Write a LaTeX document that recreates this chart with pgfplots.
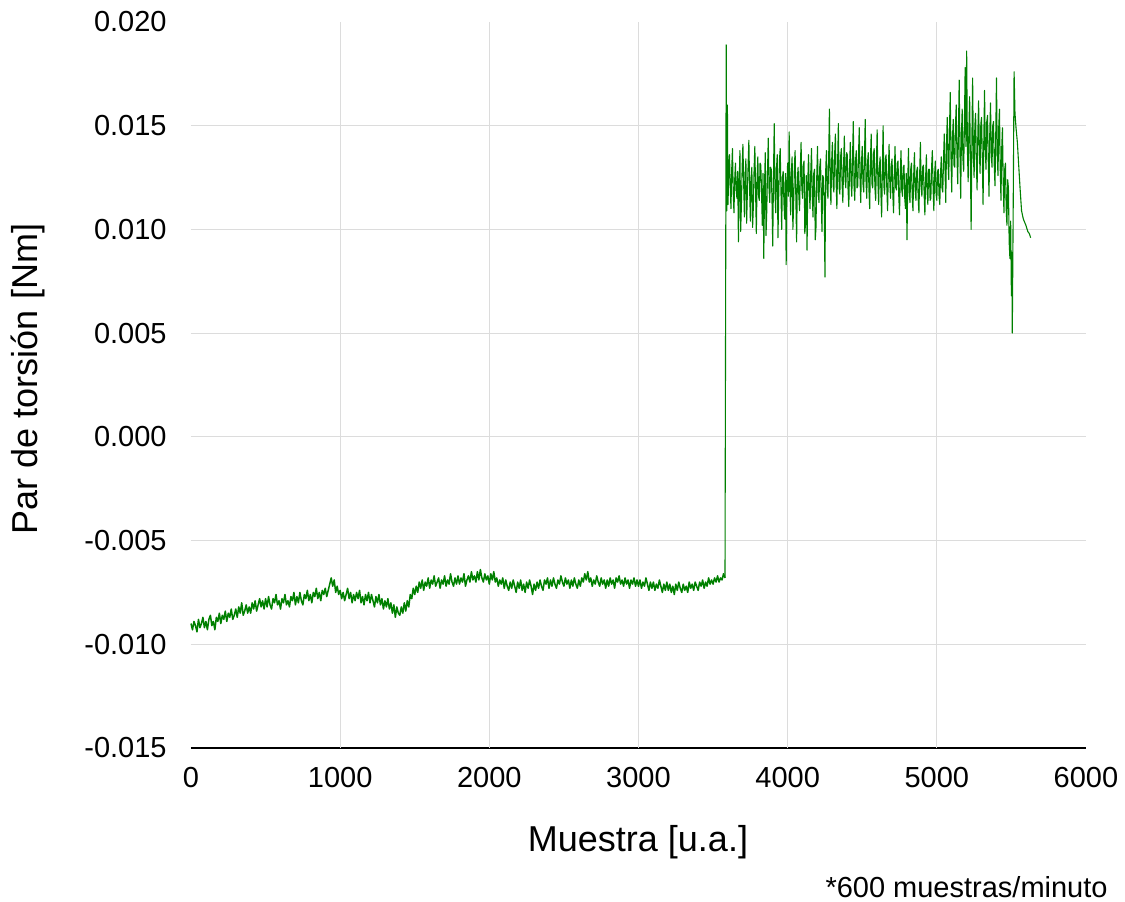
\documentclass[border=0pt]{standalone}
\usepackage{fontspec}
\setmainfont{Liberation Sans}
\usepackage{pgfplots}
\pgfplotsset{compat=1.18}
\definecolor{linegreen}{RGB}{0,128,0}
\definecolor{gridc}{RGB}{220,220,220}
\begin{document}
\begin{tikzpicture}
\useasboundingbox (-95.5pt,-76.5pt) rectangle (467pt,374pt);
\begin{axis}[
  scale only axis, width=447.5pt, height=363pt,
  at={(0,0)}, anchor=south west,
  xmin=0, xmax=6000, ymin=-15, ymax=20,
  axis x line*=bottom, axis y line*=left,
  x axis line style={black, line width=1pt},
  y axis line style={draw=none},
  major tick length=0pt,
  xtick={0,1000,2000,3000,4000,5000,6000},
  xticklabels={0,1000,2000,3000,4000,5000,6000},
  ytick={-15,-10,-5,0,5,10,15,20},
  yticklabels={-0.015,-0.010,-0.005,0.000,0.005,0.010,0.015,0.020},
  xticklabel style={font=\fontsize{14.5}{16}\selectfont, anchor=north, inner sep=0pt, yshift=-9.5pt},
  yticklabel style={font=\fontsize{14.5}{16}\selectfont, anchor=east, inner sep=0pt, xshift=-12pt},
  clip=false,
]
\pgfplotsinvokeforeach{-10,-5,0,5,10,15}{\draw[gridc, line width=0.6pt] (axis cs:0,#1) -- (axis cs:6000,#1);}
\pgfplotsinvokeforeach{1000,2000,3000,4000,5000}{\draw[gridc, line width=0.6pt] (axis cs:#1,-15) -- (axis cs:#1,20);}
% low segment
\addplot[linegreen, line width=0.75pt, line join=round] coordinates {
(0,-9.0)(10,-9.3)(20,-8.9)(30,-9.1)(40,-9.4)(50,-8.8)(60,-9.2)(70,-9.0)(80,-8.7)(90,-9.2)
(100,-8.9)(110,-9.3)(120,-8.8)(130,-8.6)(140,-9.1)(150,-8.9)(160,-9.3)(170,-8.7)(180,-8.9)(190,-8.5)
(200,-9.0)(210,-8.6)(220,-8.8)(230,-8.4)(240,-8.9)(250,-8.5)(260,-8.7)(270,-8.3)(280,-8.8)(290,-8.6)
(300,-8.3)(310,-8.7)(320,-8.2)(330,-8.5)(340,-8.0)(350,-8.6)(360,-8.4)(370,-8.1)(380,-8.5)(390,-8.2)
(400,-8.5)(410,-8.0)(420,-8.3)(430,-7.9)(440,-8.4)(450,-8.1)(460,-7.8)(470,-8.2)(480,-7.9)(490,-8.3)
(500,-7.8)(510,-8.2)(520,-7.7)(530,-8.1)(540,-8.3)(550,-7.8)(560,-8.0)(570,-7.6)(580,-8.1)(590,-7.9)
(600,-8.3)(610,-7.8)(620,-8.0)(630,-7.6)(640,-8.1)(650,-7.9)(660,-8.2)(670,-7.7)(680,-7.9)(690,-7.5)
(700,-8.1)(710,-7.7)(720,-8.0)(730,-7.5)(740,-7.9)(750,-8.1)(760,-7.6)(770,-7.8)(780,-7.4)(790,-7.9)
(800,-7.6)(810,-8.0)(820,-7.5)(830,-7.7)(840,-7.3)(850,-7.8)(860,-7.5)(870,-7.9)(880,-7.4)(890,-7.6)
(900,-7.3)(910,-7.7)(920,-7.4)(930,-7.1)(940,-6.8)(950,-7.2)(960,-6.9)(970,-7.5)(980,-7.2)(990,-7.6)
(1000,-7.4)(1010,-7.8)(1020,-7.5)(1030,-7.9)(1040,-7.6)(1050,-7.3)(1060,-7.8)(1070,-7.5)(1080,-8.0)(1090,-7.6)
(1100,-7.9)(1110,-7.5)(1120,-7.8)(1130,-7.4)(1140,-8.0)(1150,-7.7)(1160,-8.1)(1170,-7.6)(1180,-7.9)(1190,-7.5)
(1200,-8.0)(1210,-7.6)(1220,-7.9)(1230,-8.2)(1240,-7.7)(1250,-8.0)(1260,-7.6)(1270,-8.1)(1280,-7.8)(1290,-8.3)
(1300,-7.9)(1310,-8.2)(1320,-7.8)(1330,-8.3)(1340,-8.0)(1350,-8.5)(1360,-8.1)(1370,-8.7)(1380,-8.2)(1390,-8.5)
(1400,-8.6)(1410,-8.2)(1420,-8.5)(1430,-8.0)(1440,-8.4)(1450,-7.9)(1460,-8.2)(1470,-7.6)(1480,-7.8)(1490,-7.3)
(1500,-7.6)(1510,-7.2)(1520,-7.5)(1530,-7.0)(1540,-7.3)(1550,-6.9)(1560,-7.4)(1570,-7.0)(1580,-7.2)(1590,-6.8)
(1600,-7.3)(1610,-6.9)(1620,-7.1)(1630,-6.7)(1640,-7.2)(1650,-7.0)(1660,-6.8)(1670,-7.3)(1680,-6.9)(1690,-7.1)
(1700,-6.7)(1710,-7.2)(1720,-6.9)(1730,-7.1)(1740,-6.6)(1750,-7.0)(1760,-7.2)(1770,-6.8)(1780,-7.1)(1790,-6.7)
(1800,-7.1)(1810,-6.8)(1820,-7.0)(1830,-6.6)(1840,-7.2)(1850,-6.9)(1860,-6.7)(1870,-7.0)(1880,-6.5)(1890,-6.9)
(1900,-6.7)(1910,-7.0)(1920,-6.5)(1930,-6.9)(1940,-6.4)(1950,-6.8)(1960,-7.0)(1970,-6.6)(1980,-6.9)(1990,-6.7)
(2000,-7.1)(2010,-6.6)(2020,-6.9)(2030,-6.5)(2040,-7.0)(2050,-6.8)(2060,-7.2)(2070,-6.9)(2080,-7.1)(2090,-6.8)
(2100,-7.3)(2110,-6.9)(2120,-7.2)(2130,-7.4)(2140,-7.0)(2150,-7.3)(2160,-6.9)(2170,-7.2)(2180,-7.5)(2190,-7.0)
(2200,-7.3)(2210,-6.9)(2220,-7.4)(2230,-7.1)(2240,-7.5)(2250,-7.0)(2260,-7.3)(2270,-6.9)(2280,-7.2)(2290,-7.6)
(2300,-7.1)(2310,-7.4)(2320,-7.0)(2330,-7.3)(2340,-6.9)(2350,-7.2)(2360,-7.4)(2370,-6.9)(2380,-7.1)(2390,-6.8)
(2400,-7.3)(2410,-6.9)(2420,-7.2)(2430,-6.8)(2440,-7.1)(2450,-7.3)(2460,-6.9)(2470,-7.1)(2480,-6.7)(2490,-7.0)
(2500,-7.2)(2510,-6.8)(2520,-7.1)(2530,-6.9)(2540,-7.3)(2550,-6.9)(2560,-7.2)(2570,-6.8)(2580,-7.1)(2590,-7.3)
(2600,-6.9)(2610,-7.2)(2620,-6.8)(2630,-7.0)(2640,-6.6)(2650,-6.9)(2660,-6.5)(2670,-7.0)(2680,-6.8)(2690,-7.2)
(2700,-6.9)(2710,-7.1)(2720,-6.7)(2730,-7.0)(2740,-7.2)(2750,-6.8)(2760,-7.1)(2770,-6.9)(2780,-7.3)(2790,-6.9)
(2800,-7.2)(2810,-6.8)(2820,-7.1)(2830,-6.9)(2840,-7.3)(2850,-6.8)(2860,-7.0)(2870,-6.7)(2880,-7.1)(2890,-6.9)
(2900,-7.2)(2910,-6.8)(2920,-7.1)(2930,-6.9)(2940,-7.3)(2950,-6.9)(2960,-7.1)(2970,-6.8)(2980,-7.2)(2990,-6.9)
(3000,-7.2)(3010,-6.9)(3020,-7.3)(3030,-7.0)(3040,-7.2)(3050,-6.8)(3060,-7.1)(3070,-7.4)(3080,-7.0)(3090,-7.3)
(3100,-7.0)(3110,-7.4)(3120,-7.1)(3130,-7.3)(3140,-6.9)(3150,-7.2)(3160,-7.5)(3170,-7.1)(3180,-7.4)(3190,-7.0)
(3200,-7.4)(3210,-7.1)(3220,-7.5)(3230,-7.2)(3240,-7.6)(3250,-7.1)(3260,-7.4)(3270,-7.0)(3280,-7.3)(3290,-7.5)
(3300,-7.1)(3310,-7.4)(3320,-7.2)(3330,-7.5)(3340,-7.0)(3350,-7.3)(3360,-7.1)(3370,-7.4)(3380,-7.0)(3390,-7.2)
(3400,-7.4)(3410,-7.0)(3420,-7.2)(3430,-6.9)(3440,-7.3)(3450,-7.0)(3460,-7.2)(3470,-6.8)(3480,-7.1)(3490,-6.9)
(3500,-7.1)(3510,-6.8)(3520,-7.0)(3530,-6.7)(3540,-7.0)(3550,-6.8)(3560,-6.9)(3570,-6.6)(3580,-6.8)
};
% jump and high segment
\addplot[linegreen, line width=0.55pt, line join=round] coordinates {
(3580,-6.8)(3588,18.9)(3592,10.9)(3596,16.0)
(3600,11.2)(3605,12.7)(3610,13.6)(3615,12.1)(3620,11.0)(3625,12.9)(3630,13.9)(3635,11.8)(3640,10.8)(3645,12.4)
(3650,13.2)(3655,11.9)(3660,11.5)(3665,12.8)(3670,9.4)(3675,12.2)(3680,13.8)(3685,9.9)(3690,11.2)(3695,13.0)
(3700,14.1)(3705,12.3)(3710,10.6)(3715,12.6)(3720,13.4)(3725,10.3)(3730,11.8)(3735,13.1)(3740,14.3)(3745,12.0)
(3750,10.4)(3755,12.5)(3760,13.0)(3765,10.1)(3770,11.1)(3775,12.9)(3780,14.0)(3785,11.9)(3790,9.8)(3795,12.4)
(3800,13.5)(3805,11.6)(3810,11.4)(3815,13.2)(3820,13.1)(3825,11.8)(3830,10.2)(3835,12.7)(3840,8.6)(3845,12.1)
(3850,13.7)(3855,9.7)(3860,10.9)(3865,12.8)(3870,14.4)(3875,12.0)(3880,11.3)(3885,13.0)(3890,12.9)(3895,11.4)
(3900,9.2)(3905,12.6)(3910,15.1)(3915,11.8)(3920,10.8)(3925,12.9)(3930,13.6)(3935,9.6)(3940,11.6)(3945,13.3)
(3950,13.9)(3955,11.9)(3960,10.0)(3965,12.5)(3970,12.8)(3975,11.3)(3980,10.5)(3985,12.7)(3990,8.3)(3995,12.2)
(4000,13.2)(4005,11.6)(4010,14.7)(4015,12.1)(4020,10.7)(4025,12.8)(4030,13.5)(4035,10.0)(4040,11.2)(4045,13.0)
(4050,13.8)(4055,11.5)(4060,9.4)(4065,12.4)(4070,13.0)(4075,11.6)(4080,10.9)(4085,12.9)(4090,14.2)(4095,12.0)
(4100,11.5)(4105,13.1)(4110,13.3)(4115,9.8)(4120,10.3)(4125,12.6)(4130,9.0)(4135,12.3)(4140,13.6)(4145,11.9)
(4150,11.0)(4155,12.8)(4160,13.9)(4165,11.6)(4170,10.6)(4175,12.7)(4180,12.9)(4185,9.5)(4190,10.1)(4195,12.5)
(4200,14.0)(4205,11.8)(4210,11.3)(4215,13.0)(4220,13.4)(4225,11.6)(4230,9.9)(4235,12.6)(4240,12.5)(4245,11.4)
(4250,7.7)(4255,12.8)(4260,13.8)(4265,12.0)(4270,11.5)(4275,13.4)(4280,15.8)(4285,12.4)(4290,11.2)(4295,13.3)
(4300,14.2)(4305,12.1)(4310,11.8)(4315,13.6)(4320,14.6)(4325,12.3)(4330,11.0)(4335,13.2)(4340,15.1)(4345,12.0)
(4350,11.7)(4355,13.5)(4360,13.9)(4365,12.2)(4370,11.3)(4375,13.1)(4380,14.5)(4385,12.4)(4390,12.0)(4395,13.7)
(4400,13.6)(4405,11.9)(4410,11.1)(4415,13.0)(4420,14.2)(4425,12.3)(4430,11.6)(4435,13.4)(4440,15.2)(4445,12.1)
(4450,11.4)(4455,13.3)(4460,13.8)(4465,12.0)(4470,12.1)(4475,13.6)(4480,14.9)(4485,12.5)(4490,11.3)(4495,13.2)
(4500,14.0)(4505,12.2)(4510,11.8)(4515,13.5)(4520,15.3)(4525,12.4)(4530,11.5)(4535,13.1)(4540,13.7)(4545,11.9)
(4550,11.0)(4555,13.3)(4560,14.6)(4565,12.2)(4570,12.0)(4575,13.6)(4580,13.9)(4585,12.0)(4590,11.4)(4595,13.2)
(4600,14.8)(4605,12.3)(4610,11.2)(4615,13.0)(4620,13.5)(4625,11.8)(4630,10.6)(4635,12.9)(4640,15.0)(4645,12.1)
(4650,11.7)(4655,13.4)(4660,13.6)(4665,11.9)(4670,10.9)(4675,12.8)(4680,14.1)(4685,12.2)(4690,11.5)(4695,13.1)
(4700,13.4)(4705,11.7)(4710,10.8)(4715,12.7)(4720,14.0)(4725,12.0)(4730,11.9)(4735,13.2)(4740,13.3)(4745,11.6)
(4750,10.7)(4755,12.6)(4760,13.8)(4765,11.9)(4770,11.6)(4775,13.0)(4780,13.1)(4785,11.5)(4790,11.0)(4795,12.7)
(4800,9.5)(4805,12.3)(4810,13.9)(4815,11.8)(4820,11.3)(4825,12.9)(4830,13.2)(4835,11.6)(4840,10.9)(4845,12.6)
(4850,13.7)(4855,11.9)(4860,11.4)(4865,12.8)(4870,13.0)(4875,11.5)(4880,10.8)(4885,12.6)(4890,14.2)(4895,12.0)
(4900,11.6)(4905,13.0)(4910,13.1)(4915,11.7)(4920,10.7)(4925,12.5)(4930,13.6)(4935,11.8)(4940,11.2)(4945,12.9)
(4950,12.9)(4955,11.4)(4960,11.5)(4965,13.0)(4970,13.8)(4975,12.0)(4980,10.9)(4985,12.6)(4990,13.3)(4995,11.7)
(5000,11.4)(5005,12.8)(5010,12.9)(5015,11.6)(5020,11.2)(5025,12.7)(5030,13.5)(5035,12.0)(5040,11.8)(5045,13.4)
(5050,14.6)(5055,12.9)(5060,11.3)(5065,14.1)(5070,15.4)(5075,13.2)(5080,12.4)(5085,14.8)(5090,16.6)(5095,13.5)
(5100,11.8)(5105,14.4)(5110,15.3)(5115,13.1)(5120,13.0)(5125,15.0)(5130,16.0)(5135,13.6)(5140,12.2)(5145,14.7)
(5150,17.2)(5155,13.8)(5160,11.5)(5165,14.5)(5170,15.8)(5175,13.4)(5180,12.8)(5185,15.1)(5190,17.8)(5195,14.0)
(5200,18.6)(5205,13.9)(5210,12.3)(5215,14.8)(5220,16.4)(5225,13.3)(5230,10.0)(5235,14.2)(5240,17.3)(5245,13.7)
(5250,12.5)(5255,15.0)(5260,15.6)(5265,13.2)(5270,11.9)(5275,14.6)(5280,16.2)(5285,13.9)(5290,12.7)(5295,15.1)
(5300,15.4)(5305,13.4)(5310,11.2)(5315,14.3)(5320,16.7)(5325,13.8)(5330,12.9)(5335,15.2)(5340,15.5)(5345,13.3)
(5350,11.6)(5355,14.6)(5360,16.1)(5365,13.7)(5370,13.0)(5375,15.0)(5380,15.2)(5385,13.1)(5390,12.1)(5395,14.5)
(5400,17.3)(5405,13.6)(5410,12.6)(5415,14.9)(5420,15.8)(5425,13.0)(5430,11.4)(5435,13.9)(5440,14.9)(5445,12.3)
(5450,10.8)(5455,12.9)(5460,13.2)(5465,11.0)(5470,10.2)(5475,12.4)(5480,12.0)(5485,9.4)(5490,8.6)(5495,10.4)
(5500,6.8)(5503,8.9)(5506,5.0)(5512,11.0)(5518,17.6)(5524,15.6)(5531,14.9)(5540,14.2)(5548,13.2)(5558,12.0)
(5568,10.9)(5580,10.5)(5597,10.2)(5610,9.9)(5620,9.8)(5629,9.6)
};
\end{axis}
\node[rotate=90, font=\fontsize{18}{21}\selectfont] at (-81.5pt,184.5pt) {Par de torsión [Nm]};
\node[anchor=north, inner sep=0pt, font=\fontsize{18}{21}\selectfont] at (223.5pt,-38.5pt) {Muestra [u.a.]};
\node[anchor=base east, inner sep=0pt, font=\fontsize{14.5}{17}\selectfont] at (458.5pt,-74.5pt) {*600 muestras/minuto};
\end{tikzpicture}
\end{document}
